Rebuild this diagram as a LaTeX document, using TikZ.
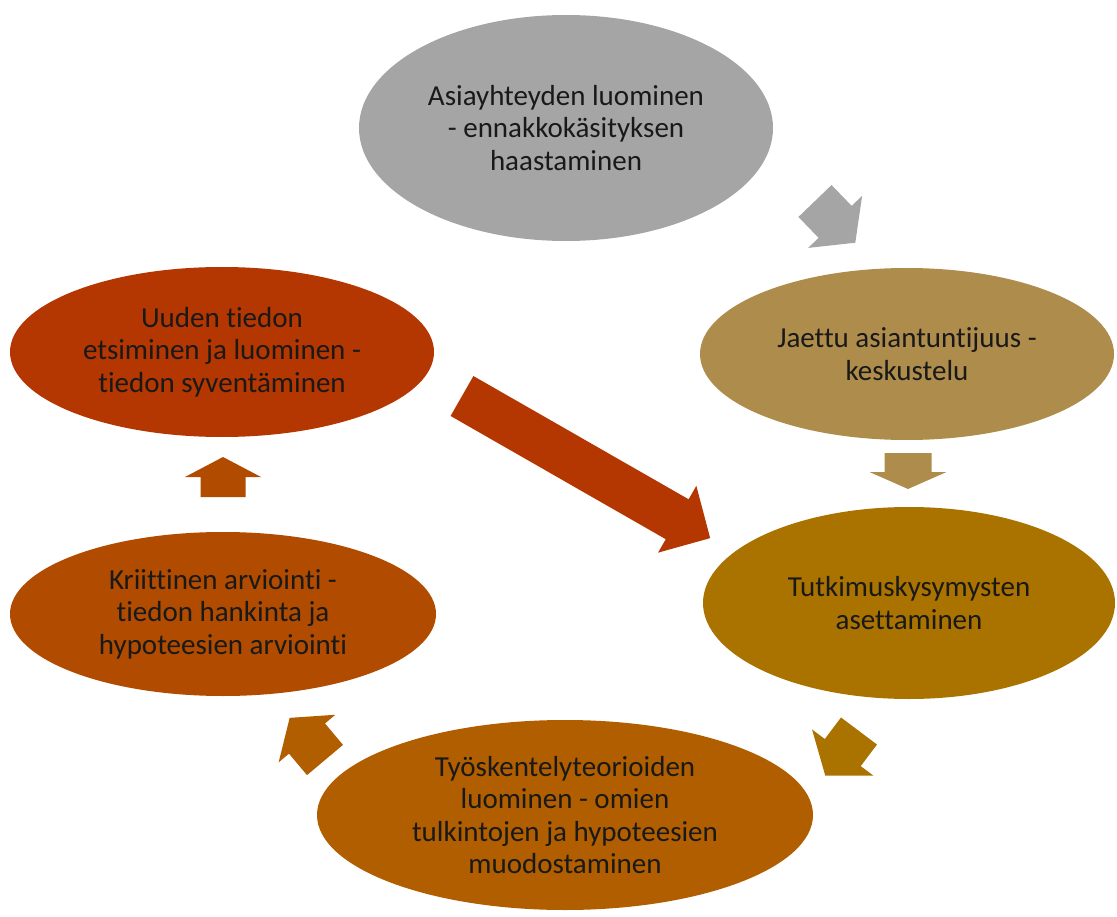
\documentclass[tikz,border=0pt]{standalone}
\usepackage{fontspec}
\setmainfont{Carlito}[Ligatures=NoCommon]
\usetikzlibrary{shapes.geometric}
\definecolor{phasegray}{HTML}{A5A5A5}
\definecolor{phasetan}{HTML}{AE8C4B}
\definecolor{phaseochre}{HTML}{AA7300}
\definecolor{phaseamber}{HTML}{B05E00}
\definecolor{phaserust}{HTML}{B04B00}
\definecolor{phasered}{HTML}{B43600}
\def\blockarrow[#1](#2)(#3:#4:#5:#6:#7){\fill[#1, shift={(#2)}, rotate=#3] (0, -#5/2) -- ({#4-#7}, -#5/2) -- ({#4-#7}, -#6/2) -- (#4, 0) -- ({#4-#7}, #6/2) -- ({#4-#7}, #5/2) -- (0, #5/2) -- cycle;}
\tikzset{phase/.style={ellipse, fill=#1, inner sep=0pt, align=center, text=black!90, font=\fontsize{29}{32.5}\selectfont}}

\begin{document}
\begin{tikzpicture}[x=1pt, y=-1pt]
			%%%%% START %%%%%
			\useasboundingbox (0, 0) rectangle (1117, 917);
			
			\node[phase=phasegray, minimum width=414pt, minimum height=226pt] (connect) at (566, 128) {Asiayhteyden luominen\\- ennakkokäsityksen\\haastaminen};
			\node[phase=phasetan, minimum width=414pt, minimum height=172pt] (shared) at (907, 354) {Jaettu asiantuntijuus -\\keskustelu};
			\node[phase=phaseochre, minimum width=412pt, minimum height=192pt] (questions) at (909, 603) {Tutkimuskysymysten\\asettaminen};
			\node[phase=phaseamber, minimum width=496pt, minimum height=190pt] (theories) at (565, 815) {Työskentelyteorioiden\\luominen - omien\\tulkintojen ja hypoteesien\\muodostaminen};
			\node[phase=phaserust, minimum width=426pt, minimum height=164pt] (critical) at (223, 614) {Kriittinen arviointi -\\tiedon hankinta ja\\hypoteesien arviointi};
			\node[phase=phasered, minimum width=424pt, minimum height=170pt] (newinfo) at (222, 352) {Uuden tiedon\\etsiminen ja luominen -\\tiedon syventäminen};
			
			\coordinate (connect-out) at (815, 201);
			\coordinate (shared-out) at (908, 453);
			\coordinate (questions-out) at (859, 731);
			\coordinate (theories-out) at (325, 760);
			\coordinate (critical-out) at (223, 497);
			\coordinate (newinfo-out) at (462, 396);
			
			\blockarrow[phasegray](connect-out)(-46:58:46:75:29);
			\blockarrow[phasetan](shared-out)(-90:36:47:77:17);
			\blockarrow[phaseochre](questions-out)(-127:56:45:77:29);
			\blockarrow[phaseamber](theories-out)(130:55:47:74:27);
			\blockarrow[phaserust](critical-out)(90:40:45:76:20);
			\blockarrow[phasered](newinfo-out)(-29.8:286:46:77:38);
			
			%%%%% END %%%%%
		\end{tikzpicture}
\end{document}
